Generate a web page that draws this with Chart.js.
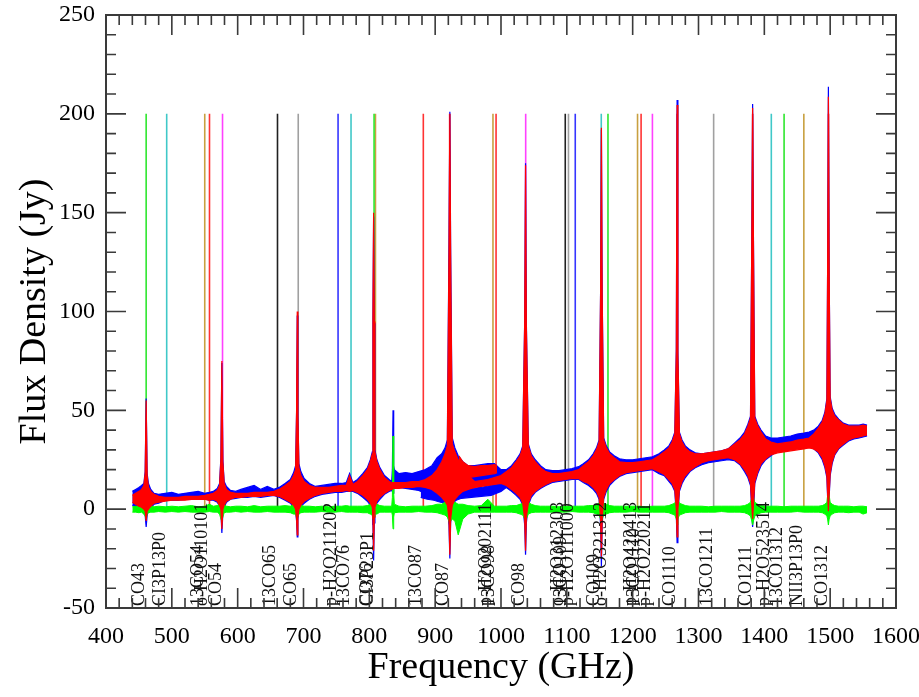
<!DOCTYPE html>
<html><head><meta charset="utf-8">
<script src="https://cdn.jsdelivr.net/npm/chart.js@4.4.0/dist/chart.umd.min.js"></script>
<style>html,body{margin:0;padding:0;background:#fff;}</style>
</head><body>
<canvas id="c" width="919" height="697"></canvas>
<script>
// ---------- axis ticks ----------
const xTickValues = [400,500,600,700,800,900,1000,1100,1200,1300,1400,1500,1600];
const yTickValues = [-50,0,50,100,150,200,250];

// ---------- main spectra (shared frequency grid, GHz) ----------
const freq = [440,445,450,454,457.5,459.5,461,462.5,464.5,468,473,480,490,500,510,520,530,540,550,557,
 563,569,572.5,574.5,576,577.5,579.5,583,589,597,605,615,625,635,645,655,
 663,672,680,685,688,689.5,690.5,691.5,693,696,701,709,718,728,738,748,758,765,770,775,
 782,790,797,801.5,804.5,805.5,806.5,807.5,808.5,811.5,816,823,830,834,835,836,837,838,845,855,865,875,885,
 895,903,910,915,918.5,921,922.3,923.5,926,930,935,942,950,960,970,980,990,1000,
 1008,1016,1023,1029,1033,1036,1037.3,1038.5,1041.5,1046,1052,1060,1068,1078,1088,1098,1108,1118,
 1125,1133,1140,1145,1149,1151.3,1152.5,1153.7,1156,1160,1165,1172,1180,1190,1200,1210,1220,1230,
 1240,1248,1255,1260,1264,1266.3,1267.5,1268.7,1271,1275,1280,1287,1295,1305,1315,1325,1335,1345,
 1355,1363,1370,1375,1379,1381,1382.2,1383.4,1385.5,1390,1395,1402,1410,1420,1430,1440,1450,1460,1468,
 1475,1482,1488,1492,1495,1496.1,1497.3,1498.5,1500,1503,1507,1513,1520,1528,1536,1544,1550,1556];

const redHigh = [7,8,9,10,12,18,55,17,11,9,7.5,6.5,6,6,6,6.5,6.5,6.5,7,7.5,
 8,9.5,12,25,75,24,13,10,8.5,8,8,8,8.5,8.5,8.5,9,
 10,12,14,17,20,50,100,48,21,17,14,12,11,11,11,11.5,12,12,17,12.5,
 14,17,20,24,28,97,150,95,29,24,20,16,14,13.5,13.5,13.5,13.5,13.5,13.5,13.5,14,14,15,
 17,20,24,28,32,130,200,128,33,29,25,21,17,14,14.5,15,16,17,
 19,21,24,27,31,95,174,93,32,27,24,21,19,18,18,18.5,19,20,
 22,24,27,30,34,110,193,108,35,31,28,26,24,23.5,23.5,24,24.5,25,
 27,29,31,34,38,80,204.5,78,38,34,31,29,28,28,28.5,29,29.5,30.5,
 33,35,38,42,46,140,203,138,46,42,39,35.5,34,33,33.5,34,35,35.5,36,
 38,41,44,48,55,120,208.7,118,56,50,47,45,43,42,42,42,42.5,42];
const redLow = [3.5,2.5,1.5,1,0,-1,-6,-1,0,1.5,3,3.5,4,4.5,4.5,4.5,5,5,5,4.5,
 5,4,2,0,-10,0,2,4,5,6,6,6.5,6.5,6.5,7,7,
 6.5,5,3.5,2,0,-5,-13,-4,0,2,4,5.5,7,8,8.5,9,9,9.5,9,9.5,
 8.5,7,5,3,1,-5,-21,-4,1,4,6,8,9.5,10,10,10.5,10.5,10.5,10.5,11,11,11.5,11,
 10,8,6,4,2,-5,-23,-5,2,5,7,9,10,11,11.5,12,12.5,13,
 12,10,8,6,3,-5,-21,-4,3,7,9,11,12.5,14,14.5,15,15.5,15.5,
 14,13,11,9,6,-5,-24,-5,6,10,13,15,17,18.5,19,19.5,20,20.5,
 19,17.5,15,13,10,0,-14,0,10,14,17,19.5,21.5,23.5,24.5,25,25.5,26,
 25,23,20,17,13,2,-5,2,14,19,23,25.5,27.5,28.5,29,29.5,30,30.5,31,
 30.5,29,26,22,17,8,-1,8,18,24,28,31,33,35,36,36.5,37,37.5];

const blueHigh = [9,10,11,12,13,19,56,18,13,10,8,7.5,8,8.5,7.5,8,8.5,9,8,8.5,
 9,10.5,13,26,74,25,14,11.5,9.5,9,10,11,12,10,11.5,10,
 11,13,15,18.5,22,49,98,47,23,19,15.5,13,11.5,12,12.5,13,13,13.5,18,13.5,
 15,18,21,25,29,96,148,94,30,25,21,17,15,14,20,50,22,20,18,18.5,18,19,20,
 22,26,28,31,35,135,201,133,36,31,27,24,22,22,22.5,23,23,20,
 20,22,25,28,32,96,175,95,33,28,25,22,20,19.5,19.5,20,20.5,21.5,
 23,25,28,31,35,111,192,110,36,32,29,27,25.5,25,25,25.5,26,26.5,
 28,30,32,35,39,81,207,80,39,35,32,30,28.5,28,28.5,29,29.5,30.5,
 33.5,36,39,43,47,141,205,140,47,43,40,37,36,36,36.5,37,38,38.5,39,
 40,42,45,49,56,121,213.7,120,57,51,48,45.5,43.5,42.5,42.5,42.5,43,42.5];
const blueLow = [2,1,0,-1,-2,-3,-9,-3,-1,0.5,2.5,3,4.5,4.5,4.5,5,5,5.5,5,4.5,
 4.5,3.5,1.5,-1,-12,-2,1,3.5,5,5.5,6,6,6.5,6,6.5,7,
 6,4.5,3,1,-1,-6,-14,-5,-1,1.5,3,5,6.5,7.5,8,8.5,8.5,9,9,9,
 8,6,4,2,-1,-8,-26,-7,0,3,5,7.5,9,9.5,9,8,11,13,11,10.5,10,9.5,8,
 7,6,5,3,1,-8,-25,-7,1,4,6,8,8,12,12.5,13,13.5,13,
 11,9,7,5,2,-8,-23,-7,2,6,8.5,10.5,12,13.5,14,14.5,15,15,
 13.5,12,10,8,5,-8,-29,-8,5,9,12,14.5,16.5,18,18.5,19,19.5,20,
 18,17,14,12,9,-3,-17,-3,9,13,16,19,21,22.5,23.5,24,24.5,25,
 24.5,22.5,19,16,12,-2,-9,-2,13,18,22,25,27,29.5,30,30.5,31,31.5,32,
 30.5,28.5,25,21,16,6,-1.5,6,17,23,27.5,30.5,32.5,34.5,35.5,36,36.5,37];

const greenHigh = [1.2,1.5,1.2,1.8,1.5,2.5,5,2.5,1.5,1.5,1.2,1.5,1.2,1.5,1.2,1.5,1.8,1.2,1.5,2.5,
 1.5,1.8,2.5,6,8,5,2.5,1.5,1.2,1.5,1.5,1.2,1.8,1.2,1.5,1.5,
 1.5,1.8,1.5,2.5,2.5,4,4.5,4,2.5,1.8,1.5,1.5,1.2,1.5,1.2,1.5,1.5,1.8,1.5,1.5,
 1.5,1.5,1.8,2.5,3,5,5,4,3,2.5,1.8,1.5,1.5,1.5,6,37,8,2.5,1.5,1.2,1.5,1.5,1.5,
 1.8,2.5,2.5,3.5,5,6,6,6,3.5,3.5,2.5,2.5,1.8,1.5,1.8,5,1.5,1.5,
 1.5,1.8,1.8,2.5,3,5,6,5,3.5,2.5,1.8,1.5,1.5,1.5,1.2,1.5,1.5,1.5,
 1.5,1.8,1.8,2.5,3,5,6,5,3,2.5,1.8,1.5,1.5,1.5,1.5,1.5,1.2,1.5,
 1.5,1.5,1.8,2.5,3,5,6,5,3,2.5,1.8,1.5,1.5,1.5,1.2,1.5,1.5,1.5,
 1.5,1.5,1.8,2.5,3.5,6,7,6,3.5,2.5,1.8,1.5,1.5,1.5,1.2,1.5,1.5,1.5,1.5,
 1.5,1.5,1.8,2.5,3.5,7,9,7,3.5,2.5,1.8,1.5,1.5,1.5,1.2,1.5,1.5,1.2];
const greenLow = [-1.5,-1.5,-1.8,-1.5,-2.5,-3.5,-5,-2.5,-1.8,-1.5,-1.5,-1.2,-1.5,-1.2,-1.5,-1.2,-1.5,-1.5,-1.5,-1.2,
 -1.5,-1.5,-2.5,-5,-6,-4,-1.8,-1.5,-1.5,-1.2,-1.5,-1.2,-1.5,-1.5,-1.2,-1.5,
 -1.5,-1.5,-1.8,-2.5,-2.5,-4,-4,-3.5,-2.5,-1.8,-1.5,-1.5,-1.5,-1.2,-1.5,-1.5,-1.2,-1.5,-1.5,-1.5,
 -1.5,-1.8,-1.8,-2.5,-3,-4,-5,-4,-2.5,-2.5,-1.5,-1.5,-1.5,-1.5,-3,-10,-4,-1.8,-1.5,-1.5,-1.5,-1.2,-1.5,
 -1.5,-1.8,-2.5,-3,-4,-6,-8,-6,-5,-6,-13,-5,-2.5,-1.5,-1.5,-1.5,-1.5,-1.5,
 -1.5,-1.5,-1.8,-2.5,-3,-5,-6,-5,-2.5,-1.8,-1.5,-1.5,-1.5,-1.5,-1.5,-1.5,-1.2,-1.5,
 -1.5,-1.5,-1.8,-2.5,-3,-5,-6,-5,-3,-2.5,-1.8,-1.5,-1.5,-1.5,-1.2,-1.5,-1.5,-1.5,
 -1.5,-1.5,-1.8,-2.5,-3,-5,-8,-5,-3,-2.5,-1.8,-1.5,-1.5,-1.5,-1.5,-1.5,-1.2,-1.5,
 -1.5,-1.5,-1.8,-2.5,-3.5,-6,-8,-6,-3.5,-2.5,-1.8,-1.5,-1.5,-1.5,-1.5,-1.5,-1.2,-1.5,-1.5,
 -1.5,-1.5,-1.8,-2.5,-3.5,-5,-8,-5,-3.5,-2.5,-1.8,-1.5,-1.5,-1.8,-1.5,-1.5,-2.5,-1.8];

// ---------- overlap branches (930-1000 GHz region) ----------
const redBranchFreq = [936,942,950,960,970,980,990,994];
const redBranchHigh = [27,24,22,21.5,22,22,22.5,22];
const redBranchLow  = [10,14,16,16.5,17,17.5,18,18.5];
const blueBranchFreq = [878,888,898,908,918,928,940,955,970,985,1000,1008];
const blueBranchHigh = [11,11,10,10,11,11,10,10.5,11,12,14,16];
const blueBranchLow  = [6,5,4.5,3.5,3,4,5.5,6,6.5,7,9,11];

// ---------- identified line markers ----------
const markerFreq = [461,492.2,550,557.2,577,660.5,692,752.5,772.2,807.2,809.3,882,922,987.8,992.5,
 1037.5,1097.6,1102.5,1112.8,1152.3,1162.5,1207.4,1212.8,1230,1267.5,1323,1382.3,1410.6,1430,1460,1497.5];
const markerColor = ['#2ee62e','#40c8c8','#c8a040','#ff3333','#ff40ff','#202020','#a0a0a0','#3535ff','#40c8c8',
 '#2ee62e','#c8a040','#ff3333','#ff3333','#c8a040','#ff3333','#ff40ff','#202020','#a0a0a0','#3535ff','#40c8c8',
 '#2ee62e','#c8a040','#ff3333','#ff40ff','#ff3333','#a0a0a0','#ff3333','#40c8c8','#2ee62e','#c8a040','#ff3333'];
const markerLabel = ['CO43','CI3P13P0','13CO54','o-H2O110101','CO54','13CO65','CO65','p-H2O211202','13CO76',
 'CO76','CI3P23P1','13CO87','CO87','p-H2O202111','13CO98','CO98','o-H2O312303','13CO109','p-H2O111000','CO109',
 'o-H2O321312','p-H2O422413','13CO1110','p-H2O220211','CO1110','13CO1211','CO1211','p-H2O523514','13CO1312',
 'NII3P13P0','CO1312'];
const markerBottom = 0, markerTop = 200;

// ---------- build datasets ----------
const SERIF = '"Liberation Serif", "Times New Roman", serif';
function pts(xs, ys){ return xs.map((v,i)=>({x:v, y:ys[i]})); }
function band(xs, hi, lo, color, order, bw){
  return [
    {data:pts(xs,lo), borderColor:color, backgroundColor:color, borderWidth:bw, fill:false, order},
    {data:pts(xs,hi), borderColor:color, backgroundColor:color, borderWidth:bw, fill:'-1', order}
  ];
}
const datasets = [];
datasets.push(...band(freq, redHigh, redLow, '#ff0000', 1, 1.2));
datasets.push(...band(redBranchFreq, redBranchHigh, redBranchLow, '#ff0000', 1, 1.2));
datasets.push(...band(freq, greenHigh, greenLow, '#00ff00', 2, 1));
datasets.push(...band(freq, blueHigh, blueLow, '#0000ff', 3, 1.2));
datasets.push(...band(blueBranchFreq, blueBranchHigh, blueBranchLow, '#0000ff', 3, 1.2));
markerFreq.forEach((f,i)=>{
  datasets.push({data:[{x:f,y:markerBottom},{x:f,y:markerTop}], borderColor:markerColor[i],
    borderWidth:1.6, fill:false, order:4});
});

const markerLabels = {
  id:'markerLabels',
  afterDatasetsDraw(chart){
    const {ctx, chartArea:a, scales:{x}} = chart;
    ctx.save();
    ctx.font = '18px ' + SERIF;
    ctx.fillStyle = '#111';
    ctx.textAlign = 'left';
    ctx.textBaseline = 'alphabetic';
    markerFreq.forEach((f,i)=>{
      const px = x.getPixelForValue(f);
      ctx.save();
      ctx.translate(px-2, a.bottom-2);
      ctx.rotate(-Math.PI/2);
      ctx.fillText(markerLabel[i], 0, 0);
      ctx.restore();
    });
    ctx.restore();
  }
};

const frame = {
  id:'frame',
  afterDraw(chart){
    const {ctx, chartArea:a, scales:{x,y}} = chart;
    ctx.save();
    ctx.strokeStyle = '#3a3a3a';
    ctx.lineWidth = 1.6;
    ctx.beginPath();
    for (let v=400; v<=1600; v+=20){
      const px = x.getPixelForValue(v);
      const L = (v%100===0) ? 20 : 10;
      ctx.moveTo(px, a.bottom); ctx.lineTo(px, a.bottom-L);
      ctx.moveTo(px, a.top); ctx.lineTo(px, a.top+L);
    }
    for (let v=-50; v<=250; v+=10){
      const py = y.getPixelForValue(v);
      const L = (v%50===0) ? 20 : 10;
      ctx.moveTo(a.left, py); ctx.lineTo(a.left+L, py);
      ctx.moveTo(a.right, py); ctx.lineTo(a.right-L, py);
    }
    ctx.stroke();
    ctx.lineWidth = 2;
    ctx.strokeRect(a.left, a.top, a.right-a.left, a.bottom-a.top);
    ctx.restore();
  }
};

function noPad(s){ s.paddingTop = 0; s.paddingBottom = 0; s.paddingLeft = 0; s.paddingRight = 0; }

new Chart(document.getElementById('c'), {
  type:'line',
  data:{datasets},
  plugins:[markerLabels, frame],
  options:{
    responsive:false, animation:false, events:[], parsing:false, normalized:true,
    elements:{point:{radius:0}, line:{tension:0}},
    layout:{padding:{top:15, right:23, left:0, bottom:0}},
    plugins:{legend:{display:false}, tooltip:{enabled:false}},
    scales:{
      x:{type:'linear', min:400, max:1600,
        afterFit(s){ s.height = 89; noPad(s); },
        afterBuildTicks(s){ s.ticks = xTickValues.map(v=>({value:v})); },
        grid:{display:false, drawTicks:false}, border:{display:false},
        ticks:{font:{family:SERIF, size:24}, color:'#000', padding:14, maxRotation:0, autoSkip:false,
          callback:(v)=>String(v)},
        title:{display:true, text:'Frequency (GHz)', font:{family:SERIF, size:38}, color:'#000', padding:{top:0, bottom:6}}
      },
      y:{type:'linear', min:-50, max:250,
        afterFit(s){ s.width = 106; noPad(s); },
        afterBuildTicks(s){ s.ticks = yTickValues.map(v=>({value:v})); },
        grid:{display:false, drawTicks:false}, border:{display:false},
        ticks:{font:{family:SERIF, size:24}, color:'#000', padding:11, autoSkip:false,
          callback:(v)=>String(v)},
        title:{display:true, text:'Flux Density (Jy)', font:{family:SERIF, size:38}, color:'#000', padding:{top:12, bottom:0}}
      }
    }
  }
});
</script>
</body></html>
